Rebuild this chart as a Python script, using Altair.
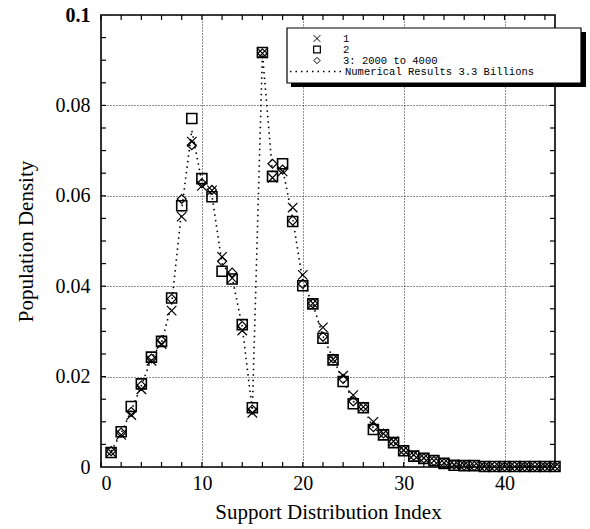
import altair as alt
import pandas as pd

# ---------------- data ----------------
idx = list(range(1, 46))

series1 = [0.0033, 0.0071, 0.0115, 0.0172, 0.0235, 0.0272, 0.0346, 0.0554, 0.0720, 0.0622,
           0.0612, 0.0465, 0.0418, 0.0302, 0.0120, 0.0915, 0.0640, 0.0654, 0.0574, 0.0425,
           0.0362, 0.0309, 0.0238, 0.0202, 0.0159, 0.0133, 0.0100, 0.0074, 0.0057, 0.0037,
           0.0027, 0.0020, 0.0014, 0.0009, 0.0005, 0.0004, 0.0003, 0.0001, 0.0001, 0.0001,
           0.0001, 0.0001, 0.0001, 0.0001, 0.0001]

series2 = [0.0032, 0.0078, 0.0134, 0.0184, 0.0243, 0.0278, 0.0374, 0.0578, 0.0771, 0.0638,
           0.0598, 0.0433, 0.0416, 0.0315, 0.0131, 0.0917, 0.0643, 0.0671, 0.0543, 0.0401,
           0.0361, 0.0285, 0.0237, 0.0189, 0.0140, 0.0131, 0.0083, 0.0071, 0.0054, 0.0036,
           0.0024, 0.0019, 0.0014, 0.0008, 0.0004, 0.0003, 0.0003, 0.0001, 0.0001, 0.0001,
           0.0001, 0.0001, 0.0001, 0.0001, 0.0001]

series3 = [0.0035, 0.0076, 0.0122, 0.0180, 0.0240, 0.0280, 0.0372, 0.0593, 0.0712, 0.0628,
           0.0613, 0.0455, 0.0430, 0.0312, 0.0127, 0.0915, 0.0671, 0.0658, 0.0545, 0.0405,
           0.0362, 0.0288, 0.0240, 0.0195, 0.0145, 0.0133, 0.0088, 0.0074, 0.0056, 0.0037,
           0.0025, 0.0019, 0.0013, 0.0008, 0.0005, 0.0003, 0.0002, 0.0001, 0.0001, 0.0001,
           0.0001, 0.0001, 0.0001, 0.0001, 0.0001]

numerical = [0.0035, 0.0075, 0.0125, 0.0180, 0.0240, 0.0275, 0.0360, 0.0570, 0.0745, 0.0630,
             0.0600, 0.0450, 0.0420, 0.0310, 0.0125, 0.0915, 0.0650, 0.0660, 0.0550, 0.0410,
             0.0360, 0.0290, 0.0240, 0.0192, 0.0145, 0.0132, 0.0086, 0.0072, 0.0055, 0.0036,
             0.0025, 0.0019, 0.0014, 0.0008, 0.0004, 0.0003, 0.0003, 0.0001, 0.0001, 0.0001,
             0.0001, 0.0001, 0.0001, 0.0001, 0.0001]

legend_labels = ["1", "2", "3:  2000 to 4000", "Numerical Results 3.3 Billions"]

x_label_values = [0, 10, 20, 30, 40]
y_label_values = [0, 0.02, 0.04, 0.06, 0.08, 0.1]
x_tick_values = list(range(0, 46, 2))
y_tick_values = [0.005, 0.01, 0.015, 0.02, 0.025, 0.03, 0.035, 0.04, 0.045, 0.05,
                 0.055, 0.06, 0.065, 0.07, 0.075, 0.08, 0.085, 0.09, 0.095]

# ---------------- layout ----------------
W, H = 454, 452
SERIF = "Liberation Serif"
MONO = "Liberation Mono"

xs = alt.Scale(domain=[0, 45], nice=False, zero=False)
ys = alt.Scale(domain=[0, 0.1], nice=False)

x_axis = alt.Axis(values=x_label_values, title="Support Distribution Index", grid=True,
                  gridDash=[1, 2], gridColor="#222", gridWidth=1, ticks=False, domain=False,
                  labelFont=SERIF, labelFontSize=20, labelColor="black", labelPadding=6,
                  titleFont=SERIF, titleFontSize=21, titleFontWeight="normal",
                  titleColor="black", titlePadding=8)
y_axis = alt.Axis(values=y_label_values, title="Population Density", grid=True,
                  gridDash=[1, 2], gridColor="#222", gridWidth=1, ticks=False, domain=False,
                  labelFont=SERIF, labelFontSize=20, labelColor="black", labelPadding=11,
                  labelFontWeight={"condition": {"test": "datum.value >= 0.1", "value": "bold"},
                                   "value": "normal"},
                  labelExpr="datum.value == 0 ? '0' : format(datum.value, '.2~f')",
                  titleFont=SERIF, titleFontSize=21, titleFontWeight="normal",
                  titleColor="black", titlePadding=19)


def X():
    return alt.X("idx:Q", scale=xs, axis=x_axis)


def Y():
    return alt.Y("val:Q", scale=ys, axis=y_axis)


df_num = pd.DataFrame({"idx": idx, "val": numerical})
df1 = pd.DataFrame({"idx": idx, "val": series1})
df2 = pd.DataFrame({"idx": idx, "val": series2})
df3 = pd.DataFrame({"idx": idx, "val": series3})

line = alt.Chart(df_num).mark_line(color="black", strokeDash=[1.5, 4],
                                   strokeWidth=1.6).encode(x=X(), y=Y())

XPATH = "M-1,-1L1,1M1,-1L-1,1"
pts1 = alt.Chart(df1).mark_point(shape=XPATH, filled=False, color="black", size=90,
                                 strokeWidth=1.2, opacity=1).encode(x=X(), y=Y())
pts2 = alt.Chart(df2).mark_point(shape="square", filled=False, color="black", size=100,
                                 strokeWidth=1.6, opacity=1).encode(x=X(), y=Y())
pts3 = alt.Chart(df3).mark_point(shape="diamond", filled=False, color="black", size=80,
                                 strokeWidth=1.2, opacity=1).encode(x=X(), y=Y())

# inward ticks
df_xt = pd.DataFrame({"idx": x_tick_values})
df_yt = pd.DataFrame({"val": y_tick_values})
tick_b = alt.Chart(df_xt).mark_rule(color="black", strokeWidth=1.2).encode(
    x=X(), y=alt.value(H), y2=alt.value(H - 5))
tick_t = alt.Chart(df_xt).mark_rule(color="black", strokeWidth=1.2).encode(
    x=X(), y=alt.value(0), y2=alt.value(5))
tick_l = alt.Chart(df_yt).mark_rule(color="black", strokeWidth=1.2).encode(
    y=Y(), x=alt.value(0), x2=alt.value(5))
tick_r = alt.Chart(df_yt).mark_rule(color="black", strokeWidth=1.2).encode(
    y=Y(), x=alt.value(W), x2=alt.value(W - 5))

# legend box (drawn by hand, with drop shadow)
one = pd.DataFrame({"k": [0]})
shadow = alt.Chart(one).mark_rect(color="black").encode(
    x=alt.value(190), x2=alt.value(485), y=alt.value(17), y2=alt.value(72))
box = alt.Chart(one).mark_rect(fill="white", stroke="black", strokeWidth=1.2).encode(
    x=alt.value(186), x2=alt.value(480), y=alt.value(13), y2=alt.value(68))

row_y = [23.5, 34.5, 45.5, 56.5]
leg_shapes = [(XPATH, 45, 1.0), ("square", 45, 1.2), ("diamond", 40, 1.0)]
legend_layers = [shadow, box]
for i, (shp, sz, sw) in enumerate(leg_shapes):
    legend_layers.append(
        alt.Chart(one).mark_point(shape=shp, filled=False, color="black", size=sz,
                                  strokeWidth=sw, opacity=1).encode(
            x=alt.value(216), y=alt.value(row_y[i])))
legend_layers.append(
    alt.Chart(one).mark_rule(color="black", strokeDash=[1.5, 4], strokeWidth=1.5).encode(
        x=alt.value(189), x2=alt.value(242), y=alt.value(row_y[3])))
for i, lab in enumerate(legend_labels):
    legend_layers.append(
        alt.Chart(pd.DataFrame({"label": [lab]})).mark_text(
            font=MONO, fontSize=10.5, color="black", align="left", baseline="middle").encode(
            text="label:N", x=alt.value(242 if i < 3 else 244), y=alt.value(row_y[i])))

chart = alt.layer(line, pts3, pts2, pts1, tick_b, tick_t, tick_l, tick_r,
                  *legend_layers).properties(
    width=W, height=H,
    autosize=alt.AutoSizeParams(type="none"),
    padding={"left": 101, "top": 15, "right": 35, "bottom": 62},
    background="white",
).configure_view(stroke="black", strokeWidth=1.6)

chart.save("out.html", embed_options={"renderer": "svg", "actions": False})
